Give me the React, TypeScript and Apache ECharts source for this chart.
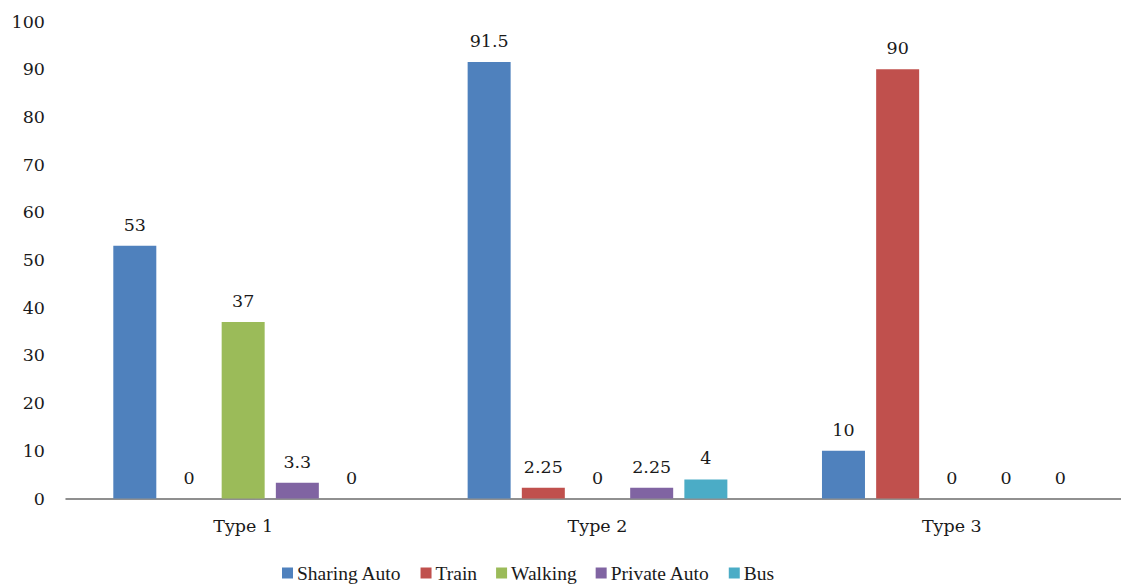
import React, { useEffect, useRef } from "react";
import * as echarts from "echarts";

const categories = ["Type 1", "Type 2", "Type 3"];
const seriesNames = ["Sharing Auto", "Train", "Walking", "Private Auto", "Bus"];
const sharingAuto = [53, 91.5, 10];
const train = [0, 2.25, 90];
const walking = [37, 0, 0];
const privateAuto = [3.3, 2.25, 0];
const bus = [0, 4, 0];
const colors = ["#4F81BD", "#C0504D", "#9BBB59", "#8064A2", "#4BACC6"];

const NUM_FONT = "'DejaVu Serif', serif";
const TXT_FONT = "'Liberation Serif', serif";

export default function App() {
  const ref = useRef<HTMLDivElement>(null);
  useEffect(() => {
    document.body.style.margin = "0";
    document.body.style.overflow = "hidden";
    const chart = echarts.init(ref.current!, null, { renderer: "svg" });
    const values = [sharingAuto, train, walking, privateAuto, bus];
    chart.setOption({
      animation: false,
      grid: { left: 66, right: 0, top: 21.5, bottom: 86.5, containLabel: false },
      legend: {
        data: seriesNames,
        left: 282,
        top: 562,
        padding: 0,
        itemWidth: 11,
        itemHeight: 11,
        itemGap: 19,
        icon: "rect",
        textStyle: { fontFamily: TXT_FONT, fontSize: 19.5, color: "#1a1a1a", lineHeight: 22, padding: [0, 0, 0, -1] },
      },
      xAxis: {
        type: "category",
        data: categories,
        axisLine: { show: true, lineStyle: { color: "#6b6b6b", width: 1.5 } },
        axisTick: { show: false },
        axisLabel: { fontFamily: NUM_FONT, fontSize: 17.5, color: "#1a1a1a", margin: 18 },
      },
      yAxis: {
        type: "value",
        min: 0,
        max: 100,
        interval: 10,
        axisLine: { show: false },
        axisTick: { show: false },
        splitLine: { show: false },
        axisLabel: { fontFamily: NUM_FONT, fontSize: 17.5, color: "#1a1a1a", margin: 21 },
      },
      series: seriesNames.map((name, i) => ({
        name,
        type: "bar",
        data: values[i],
        barWidth: 43,
        barGap: "26%",
        itemStyle: { color: colors[i] },
        label: {
          show: true,
          position: "top",
          distance: 12,
          fontFamily: NUM_FONT,
          fontSize: 17.5,
          color: "#1a1a1a",
        },
      })),
    });
    return () => chart.dispose();
  }, []);
  return <div ref={ref} style={{ width: 1129, height: 585 }} />;
}
